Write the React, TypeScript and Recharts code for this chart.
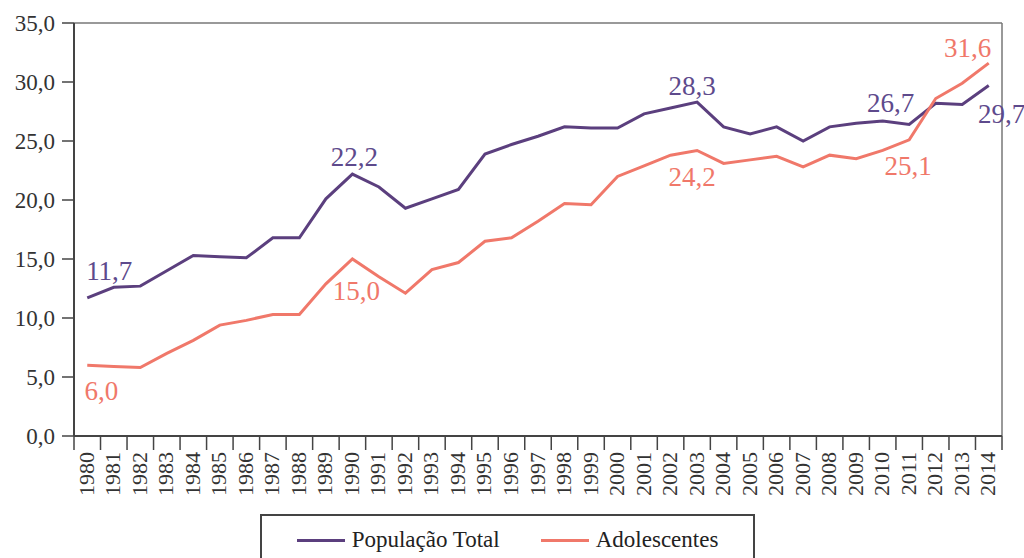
import { CartesianGrid, LabelList, Legend, Line, LineChart, XAxis, YAxis } from 'recharts'

const YEARS = [
  '1980', '1981', '1982', '1983', '1984', '1985', '1986', '1987', '1988', '1989',
  '1990', '1991', '1992', '1993', '1994', '1995', '1996', '1997', '1998', '1999',
  '2000', '2001', '2002', '2003', '2004', '2005', '2006', '2007', '2008', '2009',
  '2010', '2011', '2012', '2013', '2014',
]

const TOTAL = [
  11.7, 12.6, 12.7, 14.0, 15.3, 15.2, 15.1, 16.8, 16.8, 20.1,
  22.2, 21.1, 19.3, 20.1, 20.9, 23.9, 24.7, 25.4, 26.2, 26.1,
  26.1, 27.3, 27.8, 28.3, 26.2, 25.6, 26.2, 25.0, 26.2, 26.5,
  26.7, 26.4, 28.2, 28.1, 29.7,
]

const ADOLESCENTES = [
  6.0, 5.9, 5.8, 7.0, 8.1, 9.4, 9.8, 10.3, 10.3, 12.9,
  15.0, 13.5, 12.1, 14.1, 14.7, 16.5, 16.8, 18.2, 19.7, 19.6,
  22.0, 22.9, 23.8, 24.2, 23.1, 23.4, 23.7, 22.8, 23.8, 23.5,
  24.2, 25.1, 28.6, 29.9, 31.6,
]

const Y_TICKS = [0, 5, 10, 15, 20, 25, 30, 35]

const PURPLE = '#5b3f7e'
const SALMON = '#f0786a'
const FONT = '"Liberation Serif", "DejaVu Serif", serif'

// label placement (dx, dy from the point) for the annotated years
const TOTAL_LABELS: Record<number, [number, number]> = {
  0: [22, -18],
  10: [2, -8],
  23: [-5, -7],
  30: [8, -9],
  34: [13, 37],
}
const ADOL_LABELS: Record<number, [number, number]> = {
  0: [14, 35],
  10: [4, 41],
  23: [-5, 36],
  31: [-1, 35],
  34: [-21, -6],
}

// drop the default body margin so the chart can use the full page
document.body.style.margin = '0'

const W = 1024
const H = 558
const M = { top: 23, right: 22, left: 8, bottom: 8 }
const Y_W = 66
const STEP = (W - M.right - M.left - Y_W) / YEARS.length

const fmt = (v: number) => v.toFixed(1).replace('.', ',')

const data = YEARS.map((year, i) => ({
  year,
  total: TOTAL[i],
  adol: ADOLESCENTES[i],
}))

function YearTick(props: any) {
  const { x, y, payload, index } = props
  const last = index === YEARS.length - 1
  return (
    <g>
      <line x1={x - STEP / 2} x2={x - STEP / 2} y1={y} y2={y + 14} stroke="#444" strokeWidth={1.5} />
      {last && (
        <line x1={x + STEP / 2} x2={x + STEP / 2} y1={y} y2={y + 14} stroke="#444" strokeWidth={1.5} />
      )}
      <text
        transform={`translate(${x - 1},${y + 16}) rotate(-90)`}
        textAnchor="end"
        dominantBaseline="central"
        fontFamily={FONT}
        fontSize={22}
        fill="#333"
      >
        {payload.value}
      </text>
    </g>
  )
}

function makeLabel(spec: Record<number, [number, number]>, color: string) {
  return (props: any) => {
    const { x, y, value, index } = props
    const off = spec[index]
    if (!off) return null
    return (
      <text
        x={x + off[0]}
        y={y + off[1]}
        textAnchor="middle"
        fontFamily={FONT}
        fontSize={27}
        fill={color}
      >
        {fmt(Number(value))}
      </text>
    )
  }
}

function LegendBox() {
  const item = (color: string, label: string) => (
    <div style={{ display: 'flex', alignItems: 'center', gap: 7 }}>
      <div style={{ width: 48, height: 3, background: color }} />
      <span style={{ fontFamily: FONT, fontSize: 23, color: '#222' }}>{label}</span>
    </div>
  )
  return (
    <div
      style={{
        boxSizing: 'border-box',
        width: 495,
        height: 44,
        borderTop: '2px solid #444',
        borderLeft: '2px solid #444',
        borderRight: '2px solid #444',
        display: 'flex',
        justifyContent: 'center',
        alignItems: 'center',
        gap: 41,
        paddingTop: 6,
      }}
    >
      {item(PURPLE, 'População Total')}
      {item(SALMON, 'Adolescentes')}
    </div>
  )
}

export default function App() {
  return (
    <div style={{ width: W, height: H }}>
      <LineChart width={W} height={H} data={data} margin={M}>
        {/* frame: top edge and right edge of the plot */}
        <CartesianGrid
          stroke="#777"
          strokeWidth={1.5}
          horizontalCoordinatesGenerator={({ offset }: any) => [offset.top]}
          verticalCoordinatesGenerator={({ offset }: any) => [offset.left + offset.width]}
        />
        <XAxis
          dataKey="year"
          interval={0}
          padding={{ left: STEP / 2, right: STEP / 2 }}
          height={70}
          tickSize={0}
          tickMargin={0}
          tickLine={false}
          axisLine={{ stroke: '#444', strokeWidth: 2 }}
          tick={<YearTick />}
        />
        <YAxis
          width={Y_W}
          domain={[0, 35]}
          ticks={Y_TICKS}
          interval={0}
          tickSize={12}
          tickMargin={7}
          tickFormatter={fmt}
          tickLine={{ stroke: '#444', strokeWidth: 1.5 }}
          axisLine={{ stroke: '#444', strokeWidth: 2 }}
          tick={{ fontFamily: FONT, fontSize: 23, fill: '#333' }}
        />
        <Line
          dataKey="total"
          name="População Total"
          stroke={PURPLE}
          strokeWidth={3}
          dot={false}
          isAnimationActive={false}
        >
          <LabelList dataKey="total" content={makeLabel(TOTAL_LABELS, '#5e4a8c')} />
        </Line>
        <Line
          dataKey="adol"
          name="Adolescentes"
          stroke={SALMON}
          strokeWidth={3}
          dot={false}
          isAnimationActive={false}
        >
          <LabelList dataKey="adol" content={makeLabel(ADOL_LABELS, SALMON)} />
        </Line>
        <Legend
          content={<LegendBox />}
          wrapperStyle={{ position: 'absolute', top: 514, left: 260, width: 495, height: 44 }}
        />
      </LineChart>
    </div>
  )
}
